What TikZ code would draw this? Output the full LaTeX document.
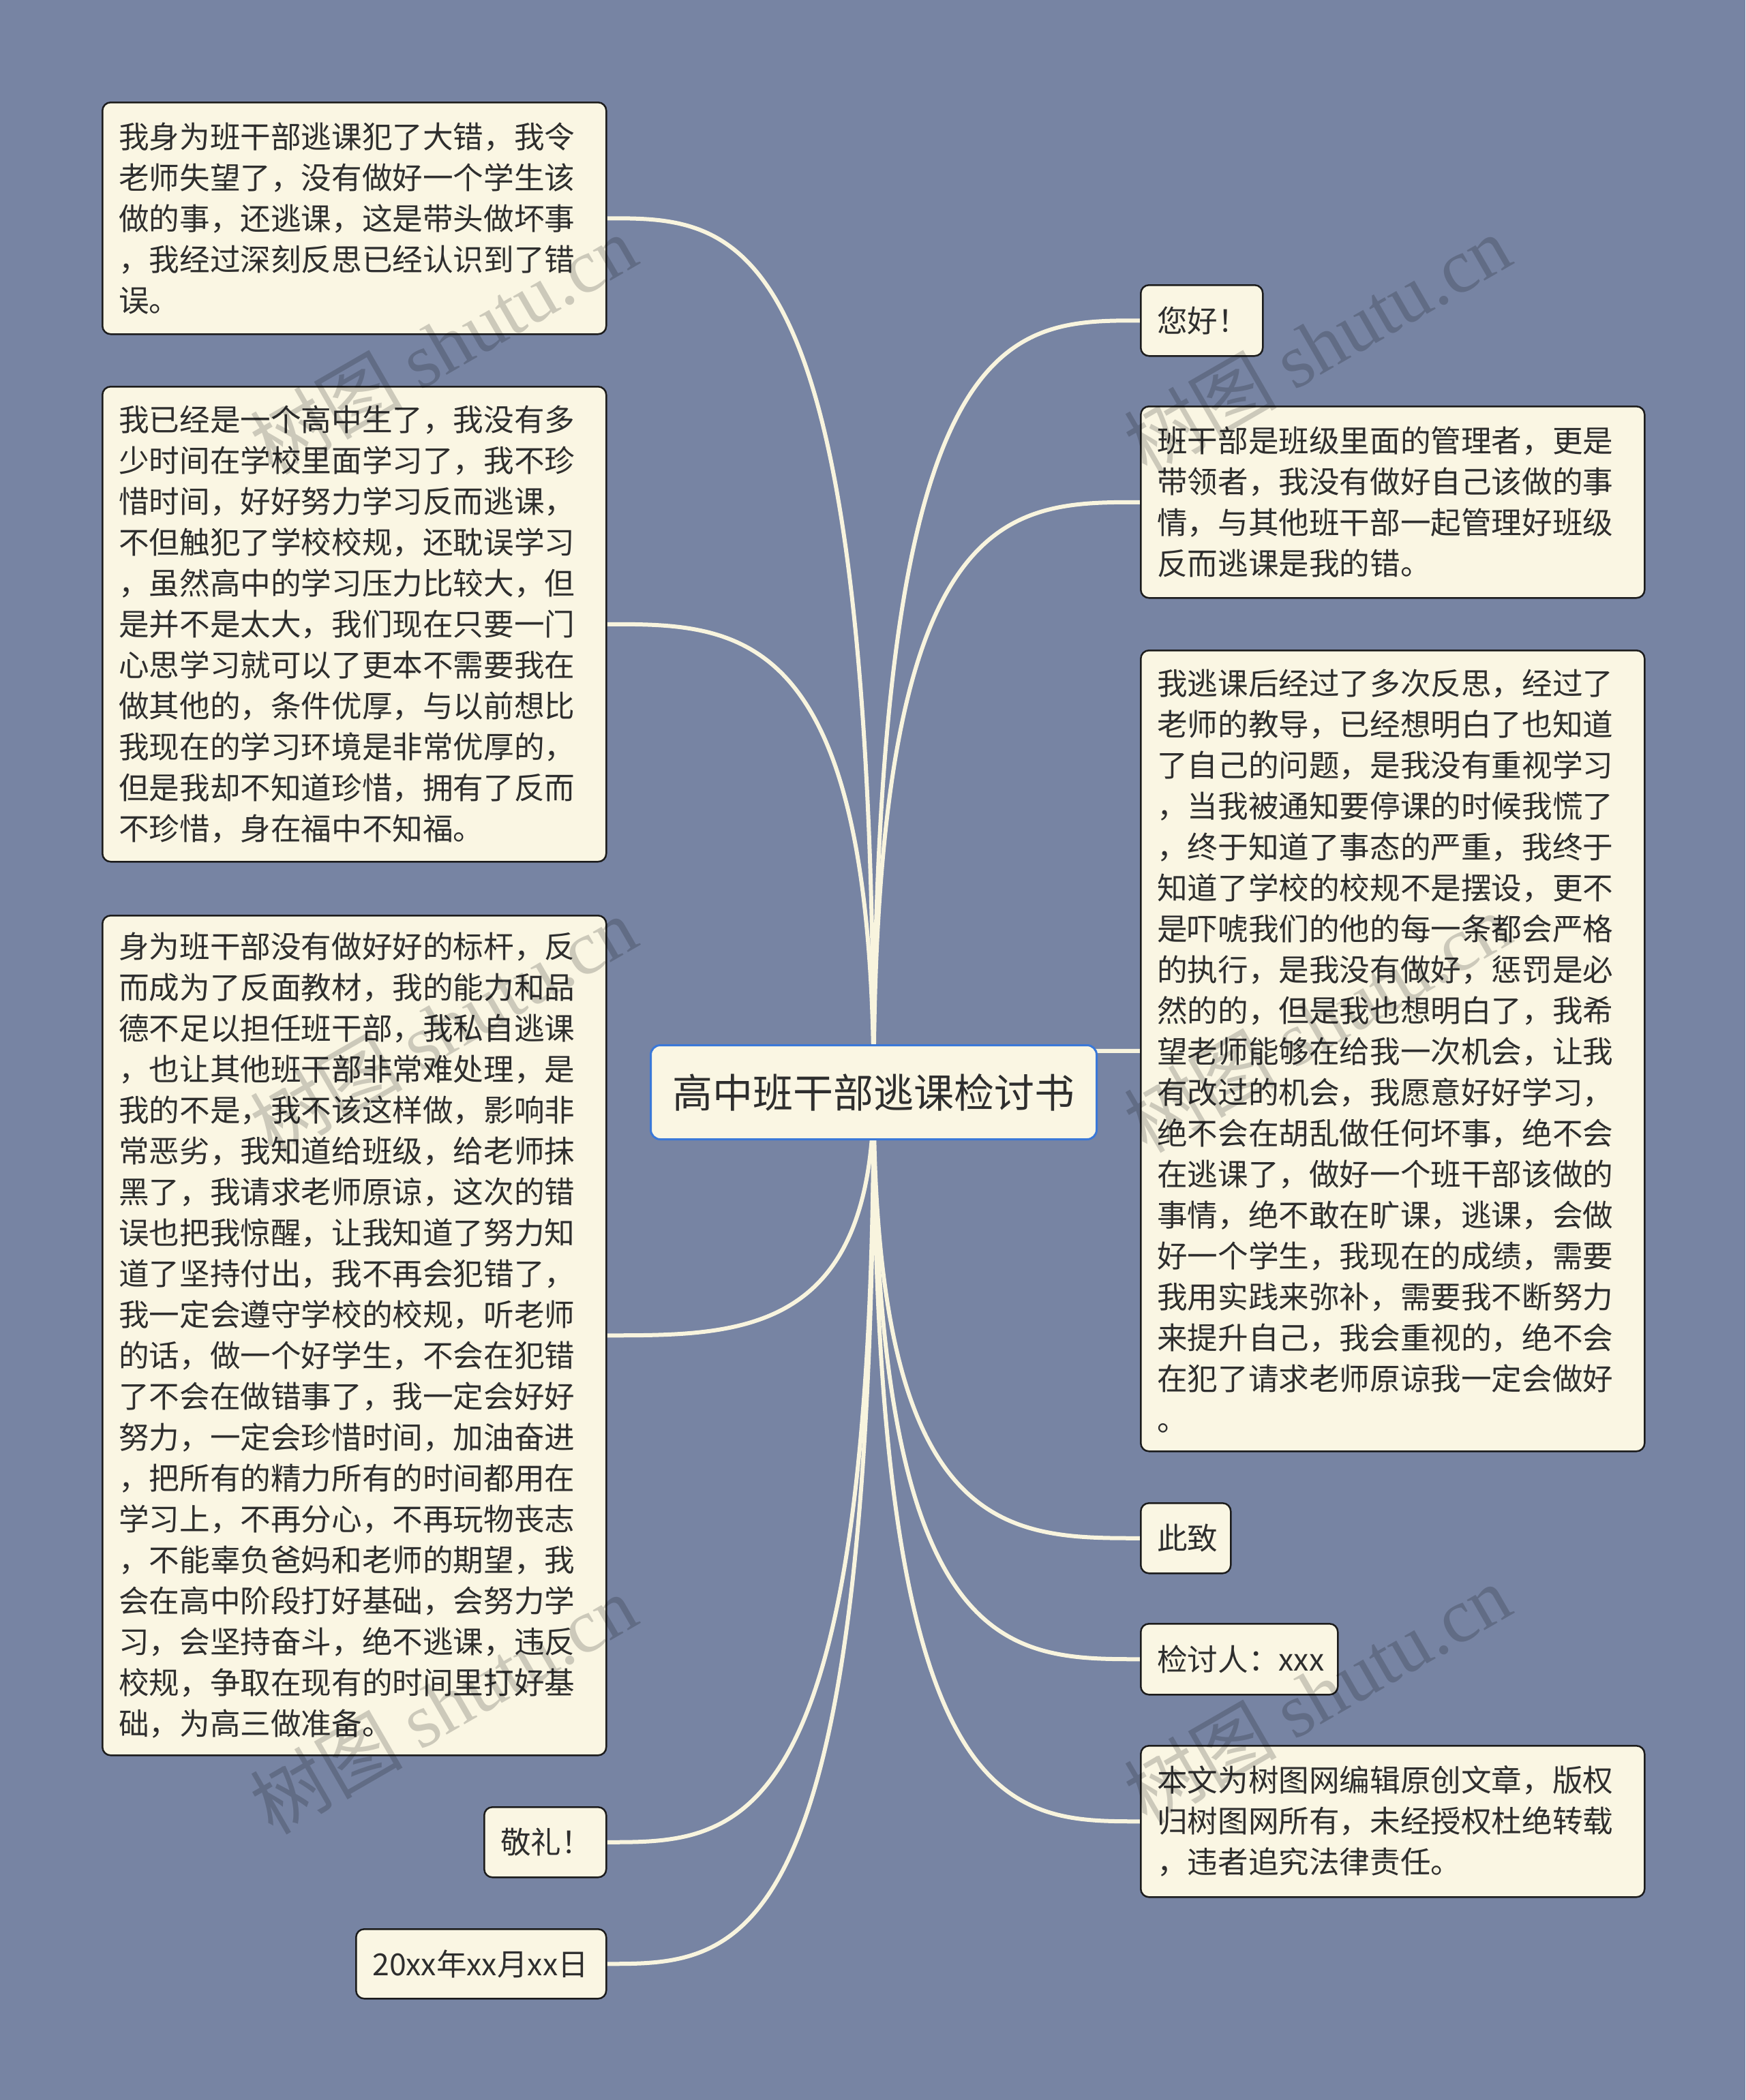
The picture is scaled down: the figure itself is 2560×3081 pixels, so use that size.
\documentclass[tikz,border=0pt]{standalone}
\usepackage{fontspec}
\setmainfont{Noto Sans CJK SC}
\newfontfamily\wmserif{Liberation Serif}
\usetikzlibrary{calc}
\definecolor{bgc}{RGB}{119,132,163}
\definecolor{cream}{RGB}{250,246,227}
\definecolor{linec}{RGB}{248,244,222}
\definecolor{txt}{RGB}{46,46,46}
\definecolor{boxline}{RGB}{28,28,28}
\definecolor{cblue}{RGB}{58,120,216}
\pgfdeclarelayer{bgl}
\pgfdeclarelayer{lines}
\pgfsetlayers{bgl,lines,main}
\tikzset{
  box/.style={draw=boxline, line width=2.5pt, fill=cream, rounded corners=12pt,
    text=txt, anchor=north west, align=left, inner xsep=24pt, inner ysep=0pt,
    font=\fontsize{44.6pt}{60pt}\selectfont},
  centerbox/.style={draw=cblue, line width=3pt, fill=cream, rounded corners=14pt,
    text=txt, anchor=north west, align=center, inner sep=0pt,
    minimum width=654pt, minimum height=138pt,
    font=\fontsize{59pt}{70pt}\selectfont},
  conn/.style={draw=linec, line width=6pt},
  wmark/.style={text=black, opacity=0.18, rotate=30, inner sep=0pt,
    font=\fontsize{112pt}{112pt}\selectfont}
}
\begin{document}
\begin{tikzpicture}[x=1pt,y=-1pt]
\useasboundingbox (0,0) rectangle (2560,3081);
\begin{pgfonlayer}{bgl}
\fill[bgc] (0,0) rectangle (2560,3081);
\end{pgfonlayer}

\node[centerbox] (c) at (953,1532) {高中班干部逃课检讨书};

\node[box, text width=691pt, minimum height=340pt] (L1) at (149,149) {我身为班干部逃课犯了大错，我令\\老师失望了，没有做好一个学生该\\做的事，还逃课，这是带头做坏事\\，我经过深刻反思已经认识到了错\\误。};
\node[box, text width=691pt, minimum height=697pt] (L2) at (149,566) {我已经是一个高中生了，我没有多\\少时间在学校里面学习了，我不珍\\惜时间，好好努力学习反而逃课，\\不但触犯了学校校规，还耽误学习\\，虽然高中的学习压力比较大，但\\是并不是太大，我们现在只要一门\\心思学习就可以了更本不需要我在\\做其他的，条件优厚，与以前想比\\我现在的学习环境是非常优厚的，\\但是我却不知道珍惜，拥有了反而\\不珍惜，身在福中不知福。};
\node[box, text width=691pt, minimum height=1232pt] (L3) at (149,1342) {身为班干部没有做好好的标杆，反\\而成为了反面教材，我的能力和品\\德不足以担任班干部，我私自逃课\\，也让其他班干部非常难处理，是\\我的不是，我不该这样做，影响非\\常恶劣，我知道给班级，给老师抹\\黑了，我请求老师原谅，这次的错\\误也把我惊醒，让我知道了努力知\\道了坚持付出，我不再会犯错了，\\我一定会遵守学校的校规，听老师\\的话，做一个好学生，不会在犯错\\了不会在做错事了，我一定会好好\\努力，一定会珍惜时间，加油奋进\\，把所有的精力所有的时间都用在\\学习上，不再分心，不再玩物丧志\\，不能辜负爸妈和老师的期望，我\\会在高中阶段打好基础，会努力学\\习，会坚持奋斗，绝不逃课，违反\\校规，争取在现有的时间里打好基\\础，为高三做准备。};
\node[box, text width=131pt, minimum height=103pt] (L4) at (709,2650) {敬礼！};
\node[box, text width=319pt, minimum height=102pt] (L5) at (521,2829) {20xx年xx月xx日};

\node[box, text width=131pt, minimum height=104pt] (R1) at (1672,417) {您好！};
\node[box, text width=691pt, minimum height=281pt] (R2) at (1672,595) {班干部是班级里面的管理者，更是\\带领者，我没有做好自己该做的事\\情，与其他班干部一起管理好班级\\反而逃课是我的错。};
\node[box, text width=691pt, minimum height=1175pt] (R3) at (1672,953) {我逃课后经过了多次反思，经过了\\老师的教导，已经想明白了也知道\\了自己的问题，是我没有重视学习\\，当我被通知要停课的时候我慌了\\，终于知道了事态的严重，我终于\\知道了学校的校规不是摆设，更不\\是吓唬我们的他的每一条都会严格\\的执行，是我没有做好，惩罚是必\\然的的，但是我也想明白了，我希\\望老师能够在给我一次机会，让我\\有改过的机会，我愿意好好学习，\\绝不会在胡乱做任何坏事，绝不会\\在逃课了，做好一个班干部该做的\\事情，绝不敢在旷课，逃课，会做\\好一个学生，我现在的成绩，需要\\我用实践来弥补，需要我不断努力\\来提升自己，我会重视的，绝不会\\在犯了请求老师原谅我一定会做好\\。};
\node[box, text width=84pt, minimum height=103pt] (R4) at (1672,2204) {此致};
\node[box, text width=241pt, minimum height=104pt] (R5) at (1672,2381) {检讨人：xxx};
\node[box, text width=691pt, minimum height=222pt] (R6) at (1672,2560) {本文为树图网编辑原创文章，版权\\归树图网所有，未经授权杜绝转载\\，违者追究法律责任。};

\begin{pgfonlayer}{lines}
\foreach \n in {L1,L2,L3,L4,L5}
  \draw[conn] (c.center) .. controls (c.center |- \n.east) and ($(c.center |- \n.east)!0.5!(\n.east)$) .. (\n.east);
\foreach \n in {R1,R2,R3,R4,R5,R6}
  \draw[conn] (c.center) .. controls (c.center |- \n.west) and ($(c.center |- \n.west)!0.5!(\n.west)$) .. (\n.west);
\end{pgfonlayer}

\node[wmark] (w1) at (650,505) {树图 {\wmserif shutu.cn}};
\node[wmark] (w2) at (1932,505) {树图 {\wmserif shutu.cn}};
\node[wmark] (w3) at (650,1505) {树图 {\wmserif shutu.cn}};
\node[wmark] (w4) at (1932,1500) {树图 {\wmserif shutu.cn}};
\node[wmark] (w5) at (650,2500) {树图 {\wmserif shutu.cn}};
\node[wmark] (w6) at (1932,2485) {树图 {\wmserif shutu.cn}};
\end{tikzpicture}
\end{document}
